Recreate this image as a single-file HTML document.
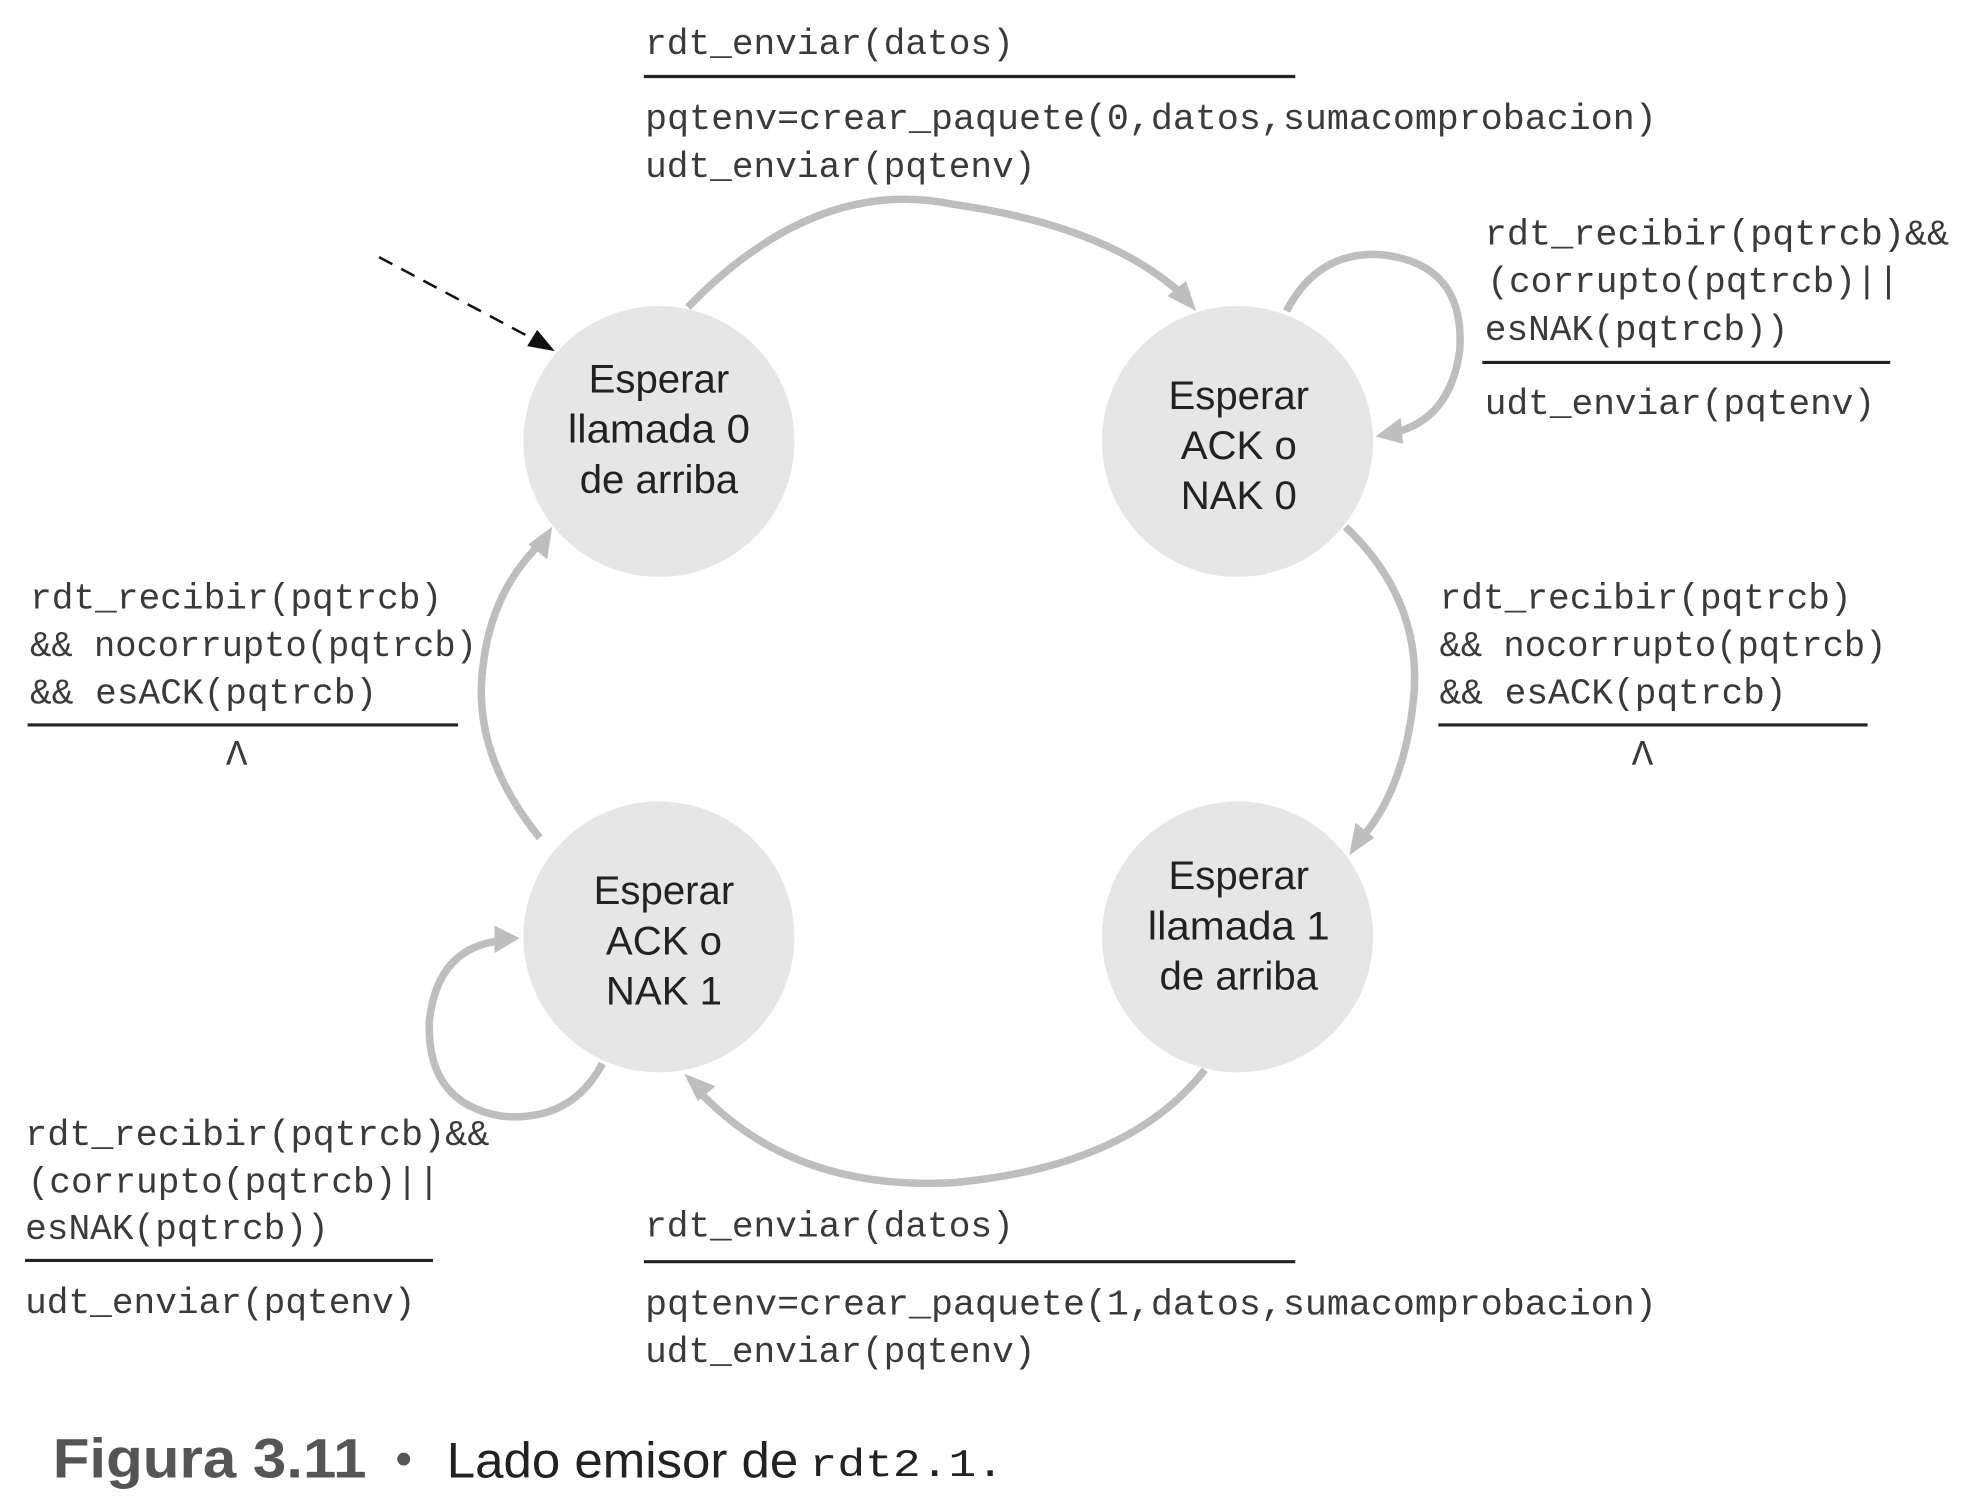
<!DOCTYPE html>
<html><head><meta charset="utf-8"><style>
html,body{margin:0;padding:0;background:#fff;width:1968px;height:1505px;overflow:hidden}
svg{display:block}
.m{font-family:"Liberation Mono",monospace;font-size:28.8px;fill:#3a3a3a}
.s{font-family:"Liberation Sans",sans-serif;font-size:32px;fill:#222;text-anchor:middle}
.a{fill:none;stroke:#bebebe;stroke-width:6}
.h{fill:#bebebe}
.r{stroke:#222;stroke-width:2.5}
</style></head><body>
<svg width="1968" height="1505" viewBox="0 0 1568 1200" preserveAspectRatio="none">
<circle cx="525" cy="352" r="108" fill="#e6e6e7"/>
<circle cx="986" cy="352" r="108" fill="#e6e6e7"/>
<circle cx="986" cy="747" r="108" fill="#e6e6e7"/>
<circle cx="525" cy="747" r="108" fill="#e6e6e7"/>
<text class="s" x="525" y="313">Esperar</text><text class="s" x="525" y="353" textLength="145" lengthAdjust="spacingAndGlyphs">llamada 0</text><text class="s" x="525" y="393">de arriba</text>
<text class="s" x="987" y="326">Esperar</text><text class="s" x="987" y="366">ACK o</text><text class="s" x="987" y="406">NAK 0</text>
<text class="s" x="987" y="709">Esperar</text><text class="s" x="987" y="749" textLength="145" lengthAdjust="spacingAndGlyphs">llamada 1</text><text class="s" x="987" y="789">de arriba</text>
<text class="s" x="529" y="721">Esperar</text><text class="s" x="529" y="761">ACK o</text><text class="s" x="529" y="801">NAK 1</text>
<!-- arcs -->
<path class="a" d="M548,245 Q650,140 760,163 Q880,180 940,233"/>
<polygon class="h" points="953,248 930,236 945,224"/>
<path class="a" d="M1072,420 Q1135,480 1126,560 Q1118,630 1085,668"/>
<polygon class="h" points="1075,682 1080,656 1095,668"/>
<path class="a" d="M960,853 Q900,930 760,943 Q630,950 555,868"/>
<polygon class="h" points="545,856 570,866 556,878"/>
<path class="a" d="M430,668 Q375,600 385,530 Q392,470 432,432"/>
<polygon class="h" points="440,420 436,446 421,434"/>
<path class="a" d="M1025,248 Q1050,200 1100,203 Q1168,210 1163,280 Q1155,335 1110,345"/>
<polygon class="h" points="1096,348 1116,333 1118,354"/>
<path class="a" d="M480,848 Q455,895 400,890 Q340,880 342,815 Q348,755 400,750"/>
<polygon class="h" points="414,748 394,738 394,760"/>
<!-- initial dashed -->
<line x1="302" y1="205" x2="428" y2="272" stroke="#111" stroke-width="2" stroke-dasharray="12,8"/>
<polygon points="442,280 420,276 428,263" fill="#111"/>
<!-- labels -->
<text class="m" x="514" y="43">rdt_enviar(datos)</text>
<line class="r" x1="513" y1="61" x2="1032" y2="61"/>
<text class="m" x="514" y="103" textLength="806" lengthAdjust="spacingAndGlyphs">pqtenv=crear_paquete(0,datos,sumacomprobacion)</text>
<text class="m" x="514" y="141">udt_enviar(pqtenv)</text>

<text class="m" x="1183" y="195" textLength="370" lengthAdjust="spacingAndGlyphs">rdt_recibir(pqtrcb)&amp;&amp;</text>
<text class="m" x="1185" y="233">(corrupto(pqtrcb)||</text>
<text class="m" x="1183" y="271">esNAK(pqtrcb))</text>
<line class="r" x1="1181" y1="289" x2="1506" y2="289"/>
<text class="m" x="1183" y="330">udt_enviar(pqtenv)</text>

<text class="m" x="24" y="485">rdt_recibir(pqtrcb)</text>
<text class="m" x="24" y="523" textLength="356" lengthAdjust="spacingAndGlyphs">&amp;&amp; nocorrupto(pqtrcb)</text>
<text class="m" x="24" y="561">&amp;&amp; esACK(pqtrcb)</text>
<line class="r" x1="22" y1="578" x2="365" y2="578"/>
<text class="m" x="180" y="610">Λ</text>

<text class="m" x="1147" y="485">rdt_recibir(pqtrcb)</text>
<text class="m" x="1147" y="523" textLength="356" lengthAdjust="spacingAndGlyphs">&amp;&amp; nocorrupto(pqtrcb)</text>
<text class="m" x="1147" y="561">&amp;&amp; esACK(pqtrcb)</text>
<line class="r" x1="1146" y1="578" x2="1488" y2="578"/>
<text class="m" x="1300" y="610">Λ</text>

<text class="m" x="20" y="913" textLength="370" lengthAdjust="spacingAndGlyphs">rdt_recibir(pqtrcb)&amp;&amp;</text>
<text class="m" x="22" y="951">(corrupto(pqtrcb)||</text>
<text class="m" x="20" y="988">esNAK(pqtrcb))</text>
<line class="r" x1="20" y1="1005" x2="345" y2="1005"/>
<text class="m" x="20" y="1047">udt_enviar(pqtenv)</text>

<text class="m" x="514" y="986">rdt_enviar(datos)</text>
<line class="r" x1="513" y1="1006" x2="1032" y2="1006"/>
<text class="m" x="514" y="1048" textLength="806" lengthAdjust="spacingAndGlyphs">pqtenv=crear_paquete(1,datos,sumacomprobacion)</text>
<text class="m" x="514" y="1086">udt_enviar(pqtenv)</text>

<text x="42" y="1178" font-family="Liberation Sans,sans-serif" font-size="44" font-weight="bold" fill="#555" textLength="250" lengthAdjust="spacingAndGlyphs">Figura 3.11</text>
<text x="315" y="1176" font-family="Liberation Sans,sans-serif" font-size="38" fill="#555">•</text>
<text x="356" y="1178" font-family="Liberation Sans,sans-serif" font-size="40" fill="#222" textLength="280" lengthAdjust="spacingAndGlyphs">Lado emisor de</text>
<text x="645" y="1177" font-family="Liberation Mono,monospace" font-size="31" fill="#222" textLength="155" lengthAdjust="spacingAndGlyphs">rdt2.1.</text>
</svg>
</body></html>
